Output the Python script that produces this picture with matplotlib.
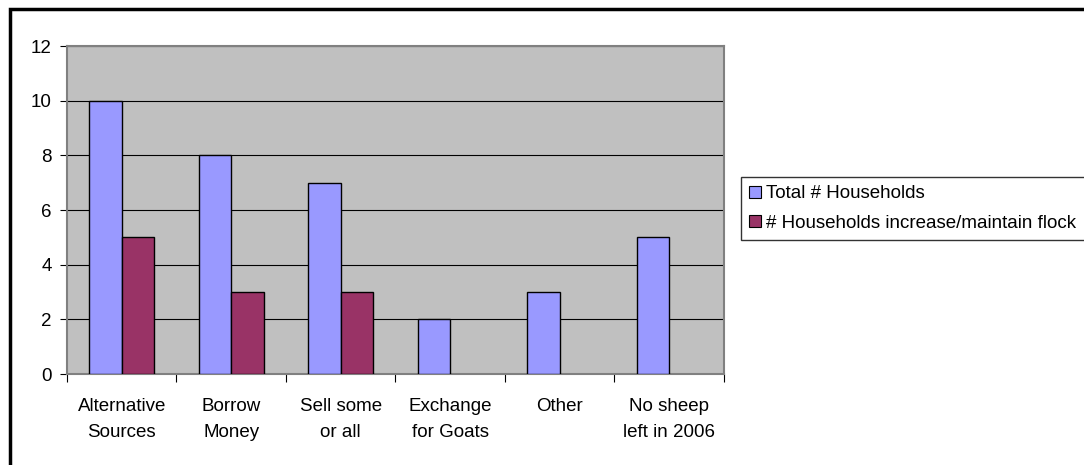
import numpy as np
from matplotlib import pyplot as plt
from matplotlib.patches import Rectangle, Patch

# categories and values
categories = ["Alternative\nSources", "Borrow\nMoney", "Sell some\nor all",
              "Exchange\nfor Goats", "Other", "No sheep\nleft in 2006"]
total_households = [10, 8, 7, 2, 3, 5]
maintain_households = [5, 3, 3, 0, 0, 0]
series_names = ["Total # Households", "# Households increase/maintain flock"]
y_ticks = [0, 2, 4, 6, 8, 10, 12]

plt.rcParams['font.family'] = ['Liberation Sans', 'DejaVu Sans']

fig = plt.figure(figsize=(10.84, 4.65), dpi=100)
W, H = 1084, 465
# plot area in pixels: left 67, right 724, top 46, bottom 374
ax = fig.add_axes([67 / W, 1 - 374 / H, (724 - 67) / W, (374 - 46) / H])
ax.set_facecolor("#C0C0C0")

x = np.arange(len(categories))
bw = 0.297
# zero-height bars are not drawn at all (no edge line)
for vals, offset, col in [(total_households, -bw / 2, "#9999FF"),
                          (maintain_households, bw / 2, "#993366")]:
    vals = np.array(vals, dtype=float)
    keep = vals > 0
    ax.bar(x[keep] + offset, vals[keep], bw, color=col, edgecolor="black",
           linewidth=1, zorder=3)

ax.set_xlim(-0.5, len(categories) - 0.5)
ax.set_ylim(0, 12)
ax.set_yticks(y_ticks)
ax.set_yticklabels([str(v) for v in y_ticks], fontsize=13.5)
ax.yaxis.grid(True, color="black", linewidth=0.8, zorder=1)

# ticks on the category boundaries, labels in the middle
ax.set_xticks(np.arange(len(categories) + 1) - 0.5)
ax.set_xticklabels([])
ax.set_xticks(x, minor=True)
ax.set_xticklabels(categories, minor=True, fontsize=13.5, linespacing=1.75)
ax.tick_params(axis="x", which="minor", length=0, pad=17)
ax.tick_params(axis="x", which="major", length=6, color="black", direction="out")
ax.tick_params(axis="y", length=5, color="black", direction="out", pad=6)

for side in ["top", "right", "left", "bottom"]:
    ax.spines[side].set_color("#808080")
    ax.spines[side].set_linewidth(1.5)
ax.set_axisbelow(True)

# legend box
handles = [Patch(facecolor="#9999FF", edgecolor="black", linewidth=0.8),
           Patch(facecolor="#993366", edgecolor="black", linewidth=0.8)]
leg = fig.legend(handles, series_names, loc="upper left",
                 bbox_to_anchor=(741 / W, 1 - 177 / H), fontsize=13.5,
                 frameon=True, fancybox=False, handlelength=0.6, handleheight=0.6,
                 handletextpad=0.3, borderpad=0.45, labelspacing=0.65,
                 borderaxespad=0)
leg.get_frame().set_edgecolor("black")
leg.get_frame().set_linewidth(1)

# thick chart border (right and bottom fall outside the picture)
fig.patches.append(Rectangle((10 / W, -0.1), 1.2, 1 - 9 / H + 0.1,
                             transform=fig.transFigure, fill=False,
                             edgecolor="black", linewidth=2.5))

fig.savefig("out.png", dpi=100)
